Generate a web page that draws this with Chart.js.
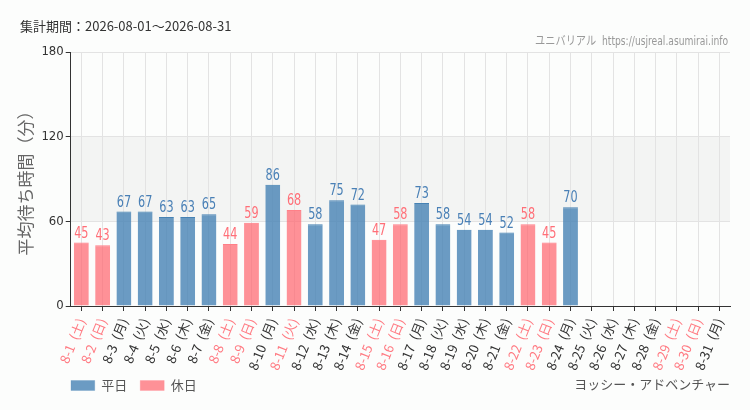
<!DOCTYPE html>
<html>
<head>
<meta charset="utf-8">
<script src="https://cdn.jsdelivr.net/npm/chart.js@4"></script>
<style>
  body { margin: 0; background: #fcfdfc; font-family: "Noto Sans CJK JP", "DejaVu Sans", sans-serif; }
  #wrap { position: relative; width: 750px; height: 410px; }
  #period { position: absolute; left: 20px; top: 16px; font-size: 13px; color: #333; }
  #site { position: absolute; right: 22px; top: 31px; font-size: 12px; color: #999; font-family: "DejaVu Sans Condensed", "Noto Sans CJK JP", sans-serif; transform: scaleX(0.85); transform-origin: right; }
  #attr { position: absolute; right: 20px; top: 374px; font-size: 13px; color: #555; }
  #box { position: absolute; left: 0; top: 0; width: 750px; height: 410px; }
</style>
</head>
<body>
<div id="wrap">
  <div id="box"><canvas id="chart"></canvas></div>
  <div id="period">集計期間：2026-08-01～2026-08-31</div>
  <div id="site">ユニバリアル&nbsp; https://usjreal.asumirai.info</div>
  <div id="attr">ヨッシー・アドベンチャー</div>
</div>
<script>
  // Dates and weekday names for August 2026
  var days = ["8-1", "8-2", "8-3", "8-4", "8-5", "8-6", "8-7", "8-8", "8-9", "8-10",
              "8-11", "8-12", "8-13", "8-14", "8-15", "8-16", "8-17", "8-18", "8-19", "8-20",
              "8-21", "8-22", "8-23", "8-24", "8-25", "8-26", "8-27", "8-28", "8-29", "8-30", "8-31"];
  var weekdays = ["土", "日", "月", "火", "水", "木", "金", "土", "日", "月",
                  "火", "水", "木", "金", "土", "日", "月", "火", "水", "木",
                  "金", "土", "日", "月", "火", "水", "木", "金", "土", "日", "月"];
  // 1 = weekend / holiday
  var holiday = [1, 1, 0, 0, 0, 0, 0, 1, 1, 0,
                 1, 0, 0, 0, 1, 1, 0, 0, 0, 0,
                 0, 1, 1, 0, 0, 0, 0, 0, 1, 1, 0];
  // average wait in minutes, null where no data
  var waits = [45, 43, 67, 67, 63, 63, 65, 44, 59, 86,
               68, 58, 75, 72, 47, 58, 73, 58, 54, 54,
               52, 58, 45, 70, null, null, null, null, null, null, null];
  var yTicks = [0, 60, 120, 180];

  var labels = [],
      weekdayData = [],
      holidayData = [];

  days.forEach(function(d, i) {
      labels.push(d + "\u2002(" + weekdays[i] + ")");
      weekdayData.push(holiday[i] ? null : waits[i]);
      holidayData.push(holiday[i] ? waits[i] : null);
  });

  var blueFill = "rgba(70,130,180,0.8)",
      blueText = "#4a80b6",
      pinkFill = "rgba(255,99,108,0.7)",
      pinkText = "#ff6f78";

  // light band between 60 and 120
  var bandPlugin = {
    id: "band",
    beforeDraw: function(chart) {
      var ctx = chart.ctx, area = chart.chartArea, y = chart.scales.y;
      ctx.save();
      ctx.fillStyle = "#f3f4f3";
      var top = y.getPixelForValue(120), bot = y.getPixelForValue(60);
      ctx.fillRect(area.left, top, area.right - area.left, bot - top);
      ctx.restore();
    }
  };

  // value labels above each bar
  var valuePlugin = {
    id: "values",
    afterDatasetsDraw: function(chart) {
      var ctx = chart.ctx;
      ctx.save();
      ctx.font = "16px 'DejaVu Sans Condensed', sans-serif";
      ctx.textAlign = "center";
      ctx.textBaseline = "bottom";
      chart.data.datasets.forEach(function(ds, di) {
        var meta = chart.getDatasetMeta(di);
        meta.data.forEach(function(bar, i) {
          if (ds.data[i] == null) return;
          ctx.fillStyle = di === 0 ? blueText : pinkText;
          ctx.save();
          ctx.translate(bar.x, bar.y - 1);
          ctx.scale(0.78, 1);
          ctx.fillText(ds.data[i], 0, 0);
          ctx.restore();
        });
      });
      ctx.restore();
    }
  };

  var ctx = document.getElementById("chart").getContext("2d");
  var myChart = new Chart(ctx, {
    type: "bar",
    data: {
      labels: labels,
      datasets: [
        {
          label: "平日",
          data: weekdayData,
          backgroundColor: blueFill,
          borderColor: "#4682b4",
          borderWidth: { top: 1, left: 0, right: 0, bottom: 0 },
          barPercentage: 0.7,
          categoryPercentage: 1
        },
        {
          label: "休日",
          data: holidayData,
          backgroundColor: pinkFill,
          borderColor: "#ff8088",
          borderWidth: { top: 1, left: 0, right: 0, bottom: 0 },
          barPercentage: 0.7,
          categoryPercentage: 1
        }
      ]
    },
    options: {
      responsive: true,
      maintainAspectRatio: false,
      animation: false,
      layout: { padding: { top: 52, right: 20, left: 15, bottom: 8 } },
      plugins: {
        tooltip: { enabled: false },
        legend: {
          position: "bottom",
          align: "start",
          fullSize: false,
          labels: {
            boxWidth: 24,
            boxHeight: 10,
            color: "#555",
            font: { size: 13, family: "'Noto Sans CJK JP', sans-serif" },
            padding: 0,
            generateLabels: function(chart) {
              var items = Chart.defaults.plugins.legend.labels.generateLabels(chart);
              items.forEach(function(it) { it.text = it.text + "\u2002\u2002"; });
              return items;
            }
          }
        }
      },
      scales: {
        x: {
          stacked: true,
          afterFit: function(axis) { axis.height = 73; },
          grid: { color: "#e3e3e3", offset: false, tickColor: "#333", tickLength: 5 },
          border: { color: "#333" },
          ticks: {
            minRotation: 68,
            maxRotation: 68,
            padding: 5,
            autoSkip: false,
            font: { size: 13, family: "'Noto Sans CJK JP', sans-serif" },
            color: function(c) { return holiday[c.index] ? "#ff7a82" : "#333"; }
          }
        },
        y: {
          stacked: true,
          min: 0,
          max: 180,
          afterBuildTicks: function(axis) {
            axis.ticks = yTicks.map(function(v) { return { value: v }; });
          },
          grid: { color: "#e3e3e3", tickColor: "#333", tickLength: 5 },
          border: { color: "#333" },
          ticks: {
            color: "#333",
            padding: 2,
            font: { size: 13, family: "'DejaVu Sans Condensed', sans-serif" }
          },
          title: {
            display: true,
            text: "平均待ち時間（分）",
            color: "#666",
            font: { size: 17, family: "'Noto Sans CJK JP', sans-serif" },
            padding: { top: 0, bottom: 4 }
          }
        }
      }
    },
    plugins: [bandPlugin, valuePlugin]
  });
</script>
</body>
</html>
